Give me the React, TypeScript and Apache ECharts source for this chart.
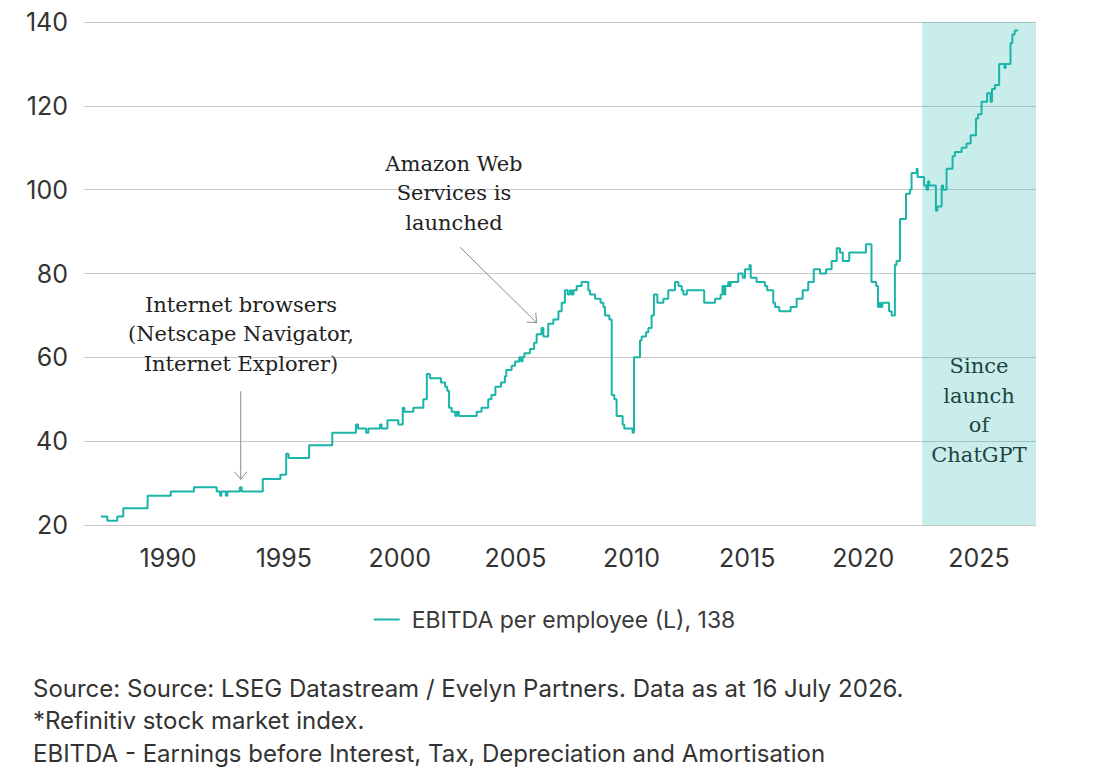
import { useEffect, useRef } from "react";
import * as echarts from "echarts";

// ─── Data (decimal years, value at which each step begins) ─────────
const DATES = [
  1987.1, 1987.38, 1987.81, 1988.07, 1989.12, 1990.12, 1991.12, 1992.1, 1992.25, 1992.3,
  1992.5, 1992.56, 1993.1, 1993.18, 1994.09, 1994.85, 1995.1, 1995.2, 1996.09, 1997.09,
  1998.11, 1998.2, 1998.55, 1998.65, 1999.15, 1999.22, 1999.47, 1999.94, 2000.13, 2000.2,
  2000.59, 2001.02, 2001.17, 2001.3, 2001.78, 2001.96, 2002.05, 2002.13, 2002.24, 2002.4,
  2002.46, 2002.55, 2003.32, 2003.53, 2003.82, 2003.96, 2004.13, 2004.37, 2004.54, 2004.6,
  2004.83, 2004.98, 2005.16, 2005.25, 2005.3, 2005.38, 2005.62, 2005.8, 2005.91, 2006.12,
  2006.2, 2006.41, 2006.63, 2006.85, 2006.99, 2007.13, 2007.25, 2007.35, 2007.42, 2007.5,
  2007.64, 2007.85, 2008.14, 2008.21, 2008.43, 2008.67, 2008.79, 2008.86, 2009.05, 2009.15,
  2009.26, 2009.36, 2009.62, 2009.69, 2010.05, 2010.11, 2010.37, 2010.44, 2010.63, 2010.73,
  2010.87, 2010.97, 2011.12, 2011.38, 2011.59, 2011.88, 2012.03, 2012.17, 2012.24, 2012.39,
  2013.14, 2013.61, 2013.85, 2013.93, 2014.0, 2014.05, 2014.18, 2014.22, 2014.28, 2014.61,
  2014.8, 2014.9, 2015.1, 2015.15, 2015.4, 2015.76, 2015.86, 2016.12, 2016.2, 2016.38,
  2016.87, 2017.13, 2017.39, 2017.63, 2017.87, 2018.14, 2018.4, 2018.64, 2018.86, 2019.0,
  2019.12, 2019.4, 2020.12, 2020.36, 2020.56, 2020.64, 2020.7, 2020.75, 2020.83, 2021.12,
  2021.23, 2021.37, 2021.44, 2021.59, 2021.85, 2022.02, 2022.09, 2022.31, 2022.35, 2022.63,
  2022.74, 2022.8, 2022.85, 2023.14, 2023.2, 2023.39, 2023.45, 2023.6, 2023.86, 2023.96,
  2024.25, 2024.46, 2024.64, 2024.87, 2024.96, 2025.11, 2025.35, 2025.5, 2025.56, 2025.69,
  2025.87, 2026.1, 2026.15, 2026.36, 2026.44, 2026.54, 2026.69,
];

const VALUES = [
  22, 21, 22, 24, 27, 28, 29, 28, 27, 28,
  27, 28, 29, 28, 31, 32, 37, 36, 39, 42,
  44, 43, 42, 43, 44, 43, 45, 44, 48, 47,
  48, 50, 56, 55, 54, 53, 52, 48, 47, 46,
  47, 46, 47, 48, 50, 51, 53, 54, 55.5, 57,
  58, 59, 60, 59, 60, 61, 62, 63.5, 65.5, 67,
  65, 68, 69, 71, 73, 76, 75, 76, 75, 76,
  77, 78, 76, 75, 74, 73, 72, 70, 69, 51,
  50, 46, 44, 43, 42, 60, 64, 65, 66, 67,
  70, 75, 73, 74, 76, 78, 77, 76, 75, 76,
  73, 74, 75, 77, 75, 77, 78, 77, 78, 80,
  79, 81, 82, 79, 78, 77, 76, 73, 72, 71,
  72, 74, 76, 78, 81, 80, 81, 83, 86, 85,
  83, 85, 87, 78, 77, 72, 73, 72, 73, 71,
  70, 82, 83, 93, 99, 100, 104, 105, 103, 101,
  100, 102, 101, 95, 96, 101, 100, 105, 108, 109,
  110, 111, 113, 117, 118, 121, 123, 121, 124, 125,
  130, 129, 130, 135, 137, 138, 138,
];

const SERIES_NAME = "EBITDA per employee (L), 138";
const X_LABELS = [1990, 1995, 2000, 2005, 2010, 2015, 2020, 2025];
const X_MIN = 1986.375;
const X_MAX = 2027.46;
const SHADE_START = 2022.55;

// annotations: text block centre + arrow (data coordinates)
const ANNOTATIONS = [
  {
    text: "Internet browsers\n(Netscape Navigator,\nInternet Explorer)",
    at: [1993.15, 65.45],
    arrowFrom: [1993.14, 51.9],
    arrowTo: [1993.14, 30.9],
  },
  {
    text: "Amazon Web\nServices is\nlaunched",
    at: [2002.34, 99.2],
    arrowFrom: [2002.6, 86.3],
    arrowTo: [2005.91, 68.25],
  },
  {
    text: "Since\nlaunch\nof\nChatGPT",
    at: [2025.0, 47.3],
  },
];

const FOOTNOTES = [
  "Source: Source: LSEG Datastream / Evelyn Partners. Data as at 16 July 2026.",
  "*Refinitiv stock market index.",
  "EBITDA - Earnings before Interest, Tax, Depreciation and Amortisation",
];

const TEAL = "#1bb4a9";
const SANS = "Inter, Roboto, sans-serif";
const SERIF = "'DejaVu Serif', 'Liberation Serif', serif";

export default function App() {
  const ref = useRef<HTMLDivElement>(null);

  useEffect(() => {
    if (!ref.current) return;
    const chart = echarts.init(ref.current, undefined, { renderer: "svg" });

    chart.setOption({
      animation: false,
      grid: { left: 84, right: 73, top: 22, bottom: 246, containLabel: false },
      legend: {
        left: "center",
        top: 603,
        data: [{ name: SERIES_NAME, icon: "rect" }],
        itemWidth: 26,
        itemHeight: 2,
        textStyle: {
          fontFamily: SANS,
          fontSize: 23,
          color: "#3a3a3a",
          padding: [0, 0, 0, 7],
        },
      },
      xAxis: {
        type: "value",
        min: X_MIN,
        max: X_MAX,
        axisLine: { show: false },
        axisTick: { show: false },
        splitLine: { show: false },
        axisLabel: {
          customValues: X_LABELS,
          formatter: (v: number) => String(Math.round(v)),
          fontFamily: SANS,
          fontSize: 25,
          color: "#333",
          margin: 20,
        },
      },
      yAxis: {
        type: "value",
        min: 20,
        max: 140,
        interval: 20,
        axisLine: { show: false },
        axisTick: { show: false },
        splitLine: { show: true, lineStyle: { color: "#c8c8c8", width: 1 } },
        axisLabel: {
          fontFamily: SANS,
          fontSize: 25,
          color: "#333",
          margin: 16,
        },
      },
      series: [
        {
          type: "line",
          name: SERIES_NAME,
          step: "end",
          symbol: "none",
          data: DATES.map((d, i) => [d, VALUES[i]]),
          lineStyle: { color: TEAL, width: 2 },
          itemStyle: { color: TEAL },
          markArea: {
            silent: true,
            itemStyle: { color: "rgba(29,179,169,0.24)" },
            data: [[{ xAxis: SHADE_START }, { xAxis: X_MAX }]],
          },
        },
      ],
    });

    // ─── Annotations anchored to data coordinates ───────────────────
    const px = (p: number[]) =>
      chart.convertToPixel({ xAxisIndex: 0, yAxisIndex: 0 }, p) as number[];

    const graphics: any[] = [];
    ANNOTATIONS.forEach((a) => {
      const [cx, cy] = px(a.at);
      graphics.push({
        type: "text",
        x: cx,
        y: cy,
        style: {
          text: a.text,
          fontFamily: SERIF,
          fontSize: 21,
          lineHeight: 29.5,
          fill: "#222",
          align: "center",
          verticalAlign: "middle",
        },
      });
      if (a.arrowFrom && a.arrowTo) {
        const [x1, y1] = px(a.arrowFrom);
        const [x2, y2] = px(a.arrowTo);
        const ang = Math.atan2(y2 - y1, x2 - x1);
        const len = 10;
        const arm = (d: number) => [
          x2 - len * Math.cos(ang + d),
          y2 - len * Math.sin(ang + d),
        ];
        const lineStyle = { stroke: "#8a8a8a", lineWidth: 1, fill: null };
        graphics.push({
          type: "line",
          shape: { x1, y1, x2, y2 },
          style: lineStyle,
        });
        graphics.push({
          type: "polyline",
          shape: { points: [arm(0.7), [x2, y2], arm(-0.7)] },
          style: lineStyle,
        });
      }
    });

    FOOTNOTES.forEach((t, i) => {
      graphics.push({
        type: "text",
        x: 33,
        y: 688 + i * 32.5,
        style: {
          text: t,
          fontFamily: SANS,
          fontSize: 24,
          fill: "#333",
          align: "left",
          verticalAlign: "middle",
        },
      });
    });

    chart.setOption({ graphic: graphics });

    return () => chart.dispose();
  }, []);

  return (
    <div
      ref={ref}
      style={{
        position: "absolute",
        left: 0,
        top: 0,
        width: "1109px",
        height: "771px",
        background: "#fff",
      }}
    />
  );
}
